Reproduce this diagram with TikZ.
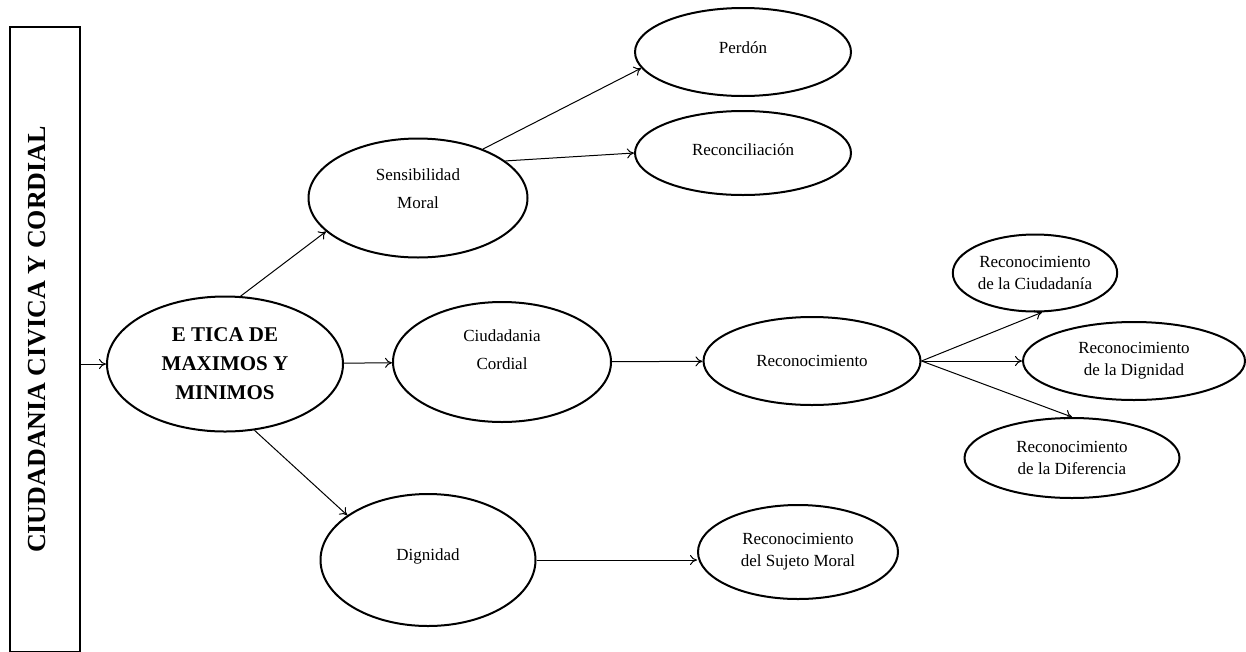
\documentclass[tikz,border=0pt]{standalone}
\usepackage{fontspec}
\setmainfont{Liberation Serif}
\usetikzlibrary{shapes.geometric,arrows.meta}

\begin{document}
\begin{tikzpicture}[x=1pt,y=-1pt,
  elip/.style = {draw,ellipse,line width=2pt,align=center,inner sep=1pt,font=\fontsize{17}{22}\selectfont},
  flecha/.style = {-{To[length=7pt,width=10pt]},line width=1pt}]
%\useasboundingbox (esquina sup izq) rectangle (esquina inf der);
\useasboundingbox (0,0) rectangle (1246,651);
\node (CCC) at (45,339.5) [draw,line width=2pt,rotate=90,minimum width=625pt,minimum height=70pt,text depth=16pt,font=\fontsize{26}{30}\selectfont\bfseries] {CIUDADANIA CIVICA Y CORDIAL};
\node (EM) at (225,364) [elip,minimum width=236pt,minimum height=135pt,font=\fontsize{21}{29}\selectfont\bfseries] {E TICA DE\\ MAXIMOS Y\\ MINIMOS};
\node (SM) at (418,198) [elip,minimum width=219pt,minimum height=119pt,text depth=18pt] {Sensibilidad\\[6pt] Moral};
\node (P) at (743,52) [elip,minimum width=216pt,minimum height=88pt,text depth=8pt] {Perdón};
\node (R) at (743,153) [elip,minimum width=216pt,minimum height=84pt,text depth=6pt] {Reconciliación};
\node (CCo) at (502,362) [elip,minimum width=218pt,minimum height=120pt,text depth=24pt] {Ciudadania\\[6pt] Cordial};
\node (RE) at (812,361) [elip,minimum width=217pt,minimum height=88pt] {Reconocimiento};
\node (RC) at (1035,273) [elip,minimum width=164pt,minimum height=77pt] {Reconocimiento\\ de la Ciudadanía};
\node (RD) at (1134,361) [elip,minimum width=222pt,minimum height=78pt] {Reconocimiento\\ de la Dignidad};
\node (RF) at (1072,458) [elip,minimum width=215pt,minimum height=80pt] {Reconocimiento\\ de la Diferencia};
\node (D) at (428,560) [elip,minimum width=215pt,minimum height=132pt,text depth=10pt] {Dignidad};
\node (SJ) at (798,552) [elip,minimum width=200pt,minimum height=94pt] {Reconocimiento\\ del Sujeto Moral};

\draw[flecha] (EM.west -| CCC.south) -- (EM.west);
\draw[flecha] (EM.77) -- (SM.200);
\draw[flecha] (EM) -- (CCo);
\draw[flecha] (EM.-66) -- (D.151);
\draw[flecha] (SM.37) -- (P.189);
\draw[flecha] (SM.23) -- (R.west);
\draw[flecha] (CCo) -- (RE);
\draw[flecha] (RE.east) -- (RC.-80);
\draw[flecha] (RE.east) -- (RD.west);
\draw[flecha] (RE.east) -- (RF.north);
\draw[flecha] (D.east) -- (D.east -| SJ.west);

\end{tikzpicture}
\end{document}
